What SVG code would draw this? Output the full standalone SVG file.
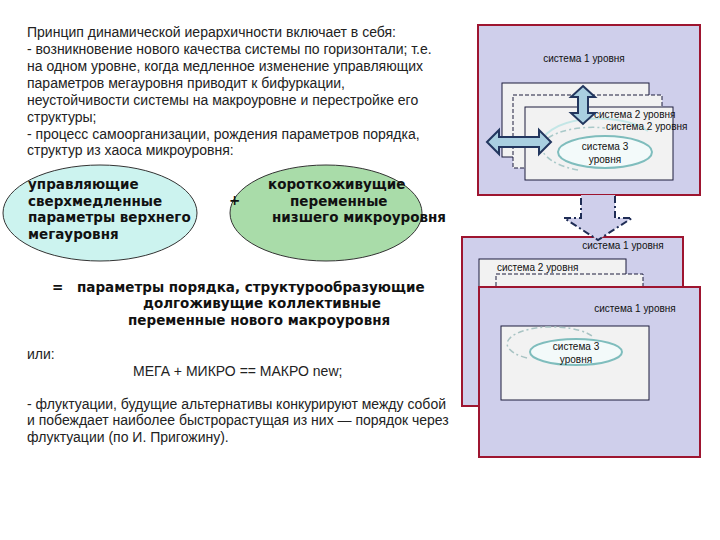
<svg xmlns="http://www.w3.org/2000/svg" width="720" height="540" viewBox="0 0 720 540">
<style>
.t{font-family:"Liberation Sans",Arial,sans-serif;font-size:14px;fill:#222}
.b{font-family:"DejaVu Sans",sans-serif;font-weight:bold;font-size:13.5px;fill:#111}
.s{font-family:"Liberation Sans",Arial,sans-serif;font-size:10px;fill:#111}
.m{text-anchor:middle}
.sys1{fill:#cfcfeb;stroke:#9e1530;stroke-width:2}
.sys2{fill:#f2f2f2;stroke:#1c1c3c;stroke-width:1}
.dash{stroke-dasharray:4 2}
.sys3{fill:#f3fafa;stroke:#7fbdbd;stroke-width:2}
.dblarrow{fill:#a9cfe0;stroke:#22365e;stroke-width:2;stroke-linejoin:miter}
</style>
<rect width="720" height="540" fill="#fff"/>

<g id="intro-text">
<text class="t" x="27" y="37">Принцип динамической иерархичности включает в себя:</text>
<text class="t" x="27" y="54">- возникновение нового качества системы по горизонтали; т.е.</text>
<text class="t" x="27" y="71">на одном уровне, когда медленное изменение управляющих</text>
<text class="t" x="27" y="88">параметров мегауровня приводит к бифуркации,</text>
<text class="t" x="27" y="105">неустойчивости системы на макроуровне и перестройке его</text>
<text class="t" x="27" y="122">структуры;</text>
<text class="t" x="27" y="139">- процесс самоорганизации, рождения параметров порядка,</text>
<text class="t" x="27" y="155">структур из хаоса микроуровня:</text>
</g>

<g id="mega-ellipse">
<ellipse cx="100" cy="213" rx="97" ry="48" fill="#ccf3ef" stroke="#333" stroke-width="1"/>
<text class="b" x="28" y="189">управляющие</text>
<text class="b" x="28" y="206">сверхмедленные</text>
<text class="b" x="28" y="222">параметры верхнего</text>
<text class="b" x="28" y="239">мегауровня</text>
</g>

<g id="micro-ellipse">
<ellipse cx="326" cy="213" rx="96" ry="48" fill="#a9dca9" stroke="#333" stroke-width="1"/>
<text class="b" x="268" y="189">короткоживущие</text>
<text class="b" x="290" y="206">переменные</text>
<text class="b" x="272" y="222">низшего микроуровня</text>
</g>

<g id="plus">
<text class="b" x="229" y="205">+</text>
</g>

<g id="result-text">
<text class="b" x="52" y="292">=</text>
<text class="b" x="77" y="292">параметры порядка, структурообразующие</text>
<text class="b" x="143" y="308">долгоживущие коллективные</text>
<text class="b" x="128" y="325">переменные нового макроуровня</text>
</g>

<g id="formula-text">
<text class="t" x="27" y="359">или:</text>
<text class="t" x="133" y="376">МЕГА + МИКРО == МАКРО new;</text>
<text class="t" x="27" y="409">- флуктуации, будущие альтернативы конкурируют между собой</text>
<text class="t" x="27" y="425">и побеждает наиболее быстрорастущая из них — порядок через</text>
<text class="t" x="27" y="442">флуктуации (по И. Пригожину).</text>
</g>

<g id="top-system">
<rect class="sys1" x="478" y="25" width="222" height="170"/>
<text class="s m" x="584" y="62">система 1 уровня</text>
<rect class="sys2" x="502" y="83" width="147" height="74"/>
<rect class="sys2 dash" x="513" y="95" width="149" height="73"/>
<rect class="sys2" x="525" y="107" width="148" height="73"/>
<path d="M541,146 A58 27 0 0 1 648,131" fill="none" stroke="#c3e6e6" stroke-width="2"/>
<path d="M578,170 A58 27 0 0 1 541,146" fill="none" stroke="#a9c9c9" stroke-width="1.5" stroke-dasharray="6 3 2 3"/>
<path d="M548,138 A52 22 0 0 1 605,128" fill="none" stroke="#a9c9c9" stroke-width="1.5" stroke-dasharray="6 3 2 3"/>
<ellipse class="sys3" cx="605" cy="152" rx="47" ry="16"/>
<text class="s" x="594" y="118">система 2 уровня</text>
<text class="s" x="606" y="130">система 2 уровня</text>
<text class="s m" x="605" y="150">система 3</text>
<text class="s m" x="605" y="163">уровня</text>
</g>

<g id="bottom-system">
<rect class="sys1" x="462" y="237" width="221" height="169"/>
<text class="s m" x="623" y="249">система 1 уровня</text>
<rect class="sys2" x="479" y="259" width="147" height="40"/>
<text class="s" x="497" y="271">система 2 уровня</text>
<rect class="sys2 dash" x="496" y="274" width="147" height="30"/>
<rect class="sys1" x="479" y="287" width="221" height="170"/>
<text class="s m" x="635" y="312">система 1 уровня</text>
<rect class="sys2" x="501" y="326" width="148" height="74"/>
<path d="M527,358 A45 17 0 1 1 592,336" fill="none" stroke="#a9c4c4" stroke-width="1.5" stroke-dasharray="6 3 2 3"/>
<ellipse class="sys3" cx="576" cy="352" rx="46" ry="13"/>
<text class="s m" x="576" y="350">система 3</text>
<text class="s m" x="576" y="363">уровня</text>
</g>

<g id="connectors">
<path class="dblarrow" d="M583,86 L595,97 L588,97 L588,113 L595,113 L583,124 L571,113 L578,113 L578,97 L571,97 Z"/>
<path class="dblarrow" d="M487,142 L499,130 L499,137 L539,137 L539,130 L551,142 L539,154 L539,147 L499,147 L499,154 Z"/>
<path d="M581,195 L615,195 L615,218 L632,218 L598,240 L564,218 L581,218 Z" fill="#cfcfeb"/>
<path d="M615,196 L615,218 L632,218 L598,240 L564,218 L581,218 L581,196" fill="none" stroke="#1f2d55" stroke-width="2" stroke-dasharray="7 3 2 3"/>
</g>
</svg>
